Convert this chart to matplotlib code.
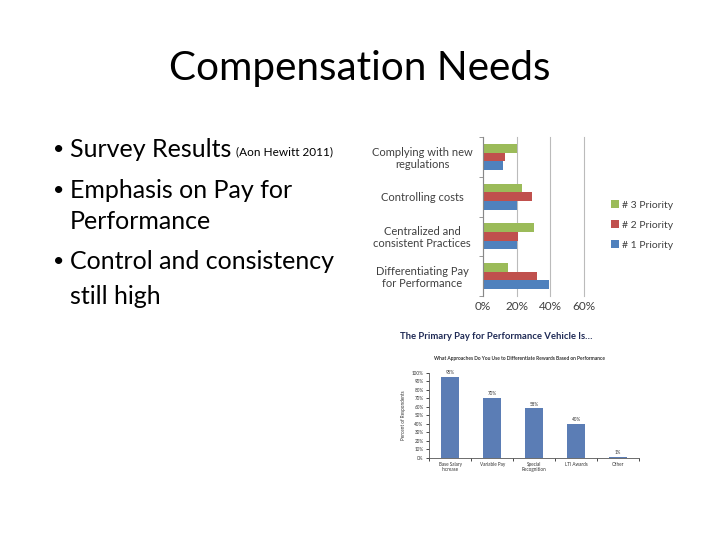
import matplotlib
matplotlib.use('Agg')
import matplotlib.pyplot as plt
import numpy as np

plt.rcParams['font.family'] = ['Lato', 'DejaVu Sans']

# Data - priorities chart
needs = ['Differentiating Pay\nfor Performance', 'Centralized and\nconsistent Practices',
         'Controlling costs', 'Complying with new\nregulations']
priority1 = [39, 20, 20, 12]
priority2 = [32, 21, 29, 13]
priority3 = [15, 30, 23, 20]
priority_labels = ['# 1 Priority', '# 2 Priority', '# 3 Priority']
priority_colors = ['#4F81BD', '#C0504D', '#9BBB59']

# Data - pay for performance vehicle chart
vehicles = ['Base Salary\nIncrease', 'Variable Pay', 'Special\nRecognition', 'LTI Awards', 'Other']
vehicle_pct = [95, 70, 58, 40, 1]

fig = plt.figure(figsize=(7.2, 5.4), dpi=100)
fig.patch.set_facecolor('white')

# Slide title and bullets
fig.text(0.5, 0.873, 'Compensation Needs', ha='center', va='center', fontsize=29.2, color='black')
bullets = [(0.723, 'Survey Results'), (0.647, 'Emphasis on Pay for'),
           (0.515, 'Control and consistency')]
conts = [(0.590, 'Performance'), (0.450, 'still high')]
first = None
for y, t in bullets:
    fig.text(0.074, y, '\u2022', ha='left', va='center', fontsize=14)
    txt = fig.text(0.097, y, t, ha='left', va='center', fontsize=18)
    if first is None:
        first = txt
for y, t in conts:
    fig.text(0.097, y, t, ha='left', va='center', fontsize=18)

# small source note placed right after the first bullet
fig.canvas.draw()
bb = first.get_window_extent(renderer=fig.canvas.get_renderer())
fig.text(bb.x1 / fig.bbox.width + 0.006, 0.718, '(Aon Hewitt 2011)', ha='left', va='center',
         fontsize=8.5)

# Chart 1: horizontal grouped bars
ax1 = fig.add_axes([0.671, 0.452, 0.140, 0.294])
y = np.arange(len(needs))
h = 0.22
ax1.barh(y - h, priority1, height=h, color=priority_colors[0], label=priority_labels[0])
ax1.barh(y, priority2, height=h, color=priority_colors[1], label=priority_labels[1])
ax1.barh(y + h, priority3, height=h, color=priority_colors[2], label=priority_labels[2])
ax1.set_xlim(0, 60)
ax1.set_ylim(-0.5, 3.5)
ax1.set_xticks([0, 20, 40, 60])
ax1.set_xticklabels(['0%', '20%', '40%', '60%'], fontsize=8.5, color='#404040')
ax1.set_yticks(y)
ax1.set_yticklabels(needs, fontsize=8, color='#404040', ha='center', linespacing=1.1)
ax1.tick_params(axis='y', length=0, pad=44)
ax1.tick_params(axis='x', length=0, pad=4)
ax1.set_yticks(np.arange(-0.5, 4, 1), minor=True)
ax1.tick_params(axis='y', which='minor', length=3, color='#888888', direction='out')
ax1.xaxis.grid(True, color='#BBBBBB', linewidth=0.8)
for line in ax1.get_xgridlines():
    line.set_clip_on(False)
ax1.set_axisbelow(True)
for s in ['top', 'right', 'bottom']:
    ax1.spines[s].set_visible(False)
ax1.spines['left'].set_color('#888888')
handles, labels = ax1.get_legend_handles_labels()
fig.legend(handles[::-1], labels[::-1], loc='center left', bbox_to_anchor=(0.835, 0.583),
           frameon=False, fontsize=7.5, handlelength=0.8, handleheight=0.8,
           labelspacing=1.0, handletextpad=0.3, labelcolor='#404040')

# Chart 2: vertical bars
fig.text(0.556, 0.377, 'The Primary Pay for Performance Vehicle Is\u2026', ha='left', va='center',
         fontsize=6.8, fontweight='bold', color='#1F2A55')
fig.text(0.722, 0.337, 'What Approaches Do You Use to Differentiate Rewards Based on Performance',
         ha='center', va='center', fontsize=3.55, fontweight='bold', color='#333333')
ax2 = fig.add_axes([0.596, 0.152, 0.292, 0.158])
x = np.arange(len(vehicles))
ax2.bar(x, vehicle_pct, width=0.43, color='#5B7DB5')
for xi, v in zip(x, vehicle_pct):
    ax2.text(xi, v + 2, f'{v}%', ha='center', va='bottom', fontsize=3.3, color='#333333')
ax2.set_xlim(-0.5, 4.5)
ax2.set_ylim(0, 100)
ax2.set_yticks(np.arange(0, 101, 10))
ax2.set_yticklabels([f'{t}%' for t in range(0, 101, 10)], fontsize=3.3, color='#333333')
ax2.set_xticks(x)
ax2.set_xticklabels(vehicles, fontsize=3.3, color='#333333', linespacing=1.1)
ax2.tick_params(axis='x', length=0, pad=3)
ax2.set_xticks(np.arange(-0.5, 5, 1), minor=True)
ax2.tick_params(axis='x', which='minor', length=2, width=0.5)
ax2.tick_params(axis='y', length=2, width=0.5, pad=2)
ax2.set_ylabel('Percent of Respondents', fontsize=3.3, color='#333333', labelpad=4)
for s in ['top', 'right']:
    ax2.spines[s].set_visible(False)
for s in ['left', 'bottom']:
    ax2.spines[s].set_linewidth(0.6)
    ax2.spines[s].set_color('#555555')

fig.savefig('out.png', dpi=100, facecolor='white')
